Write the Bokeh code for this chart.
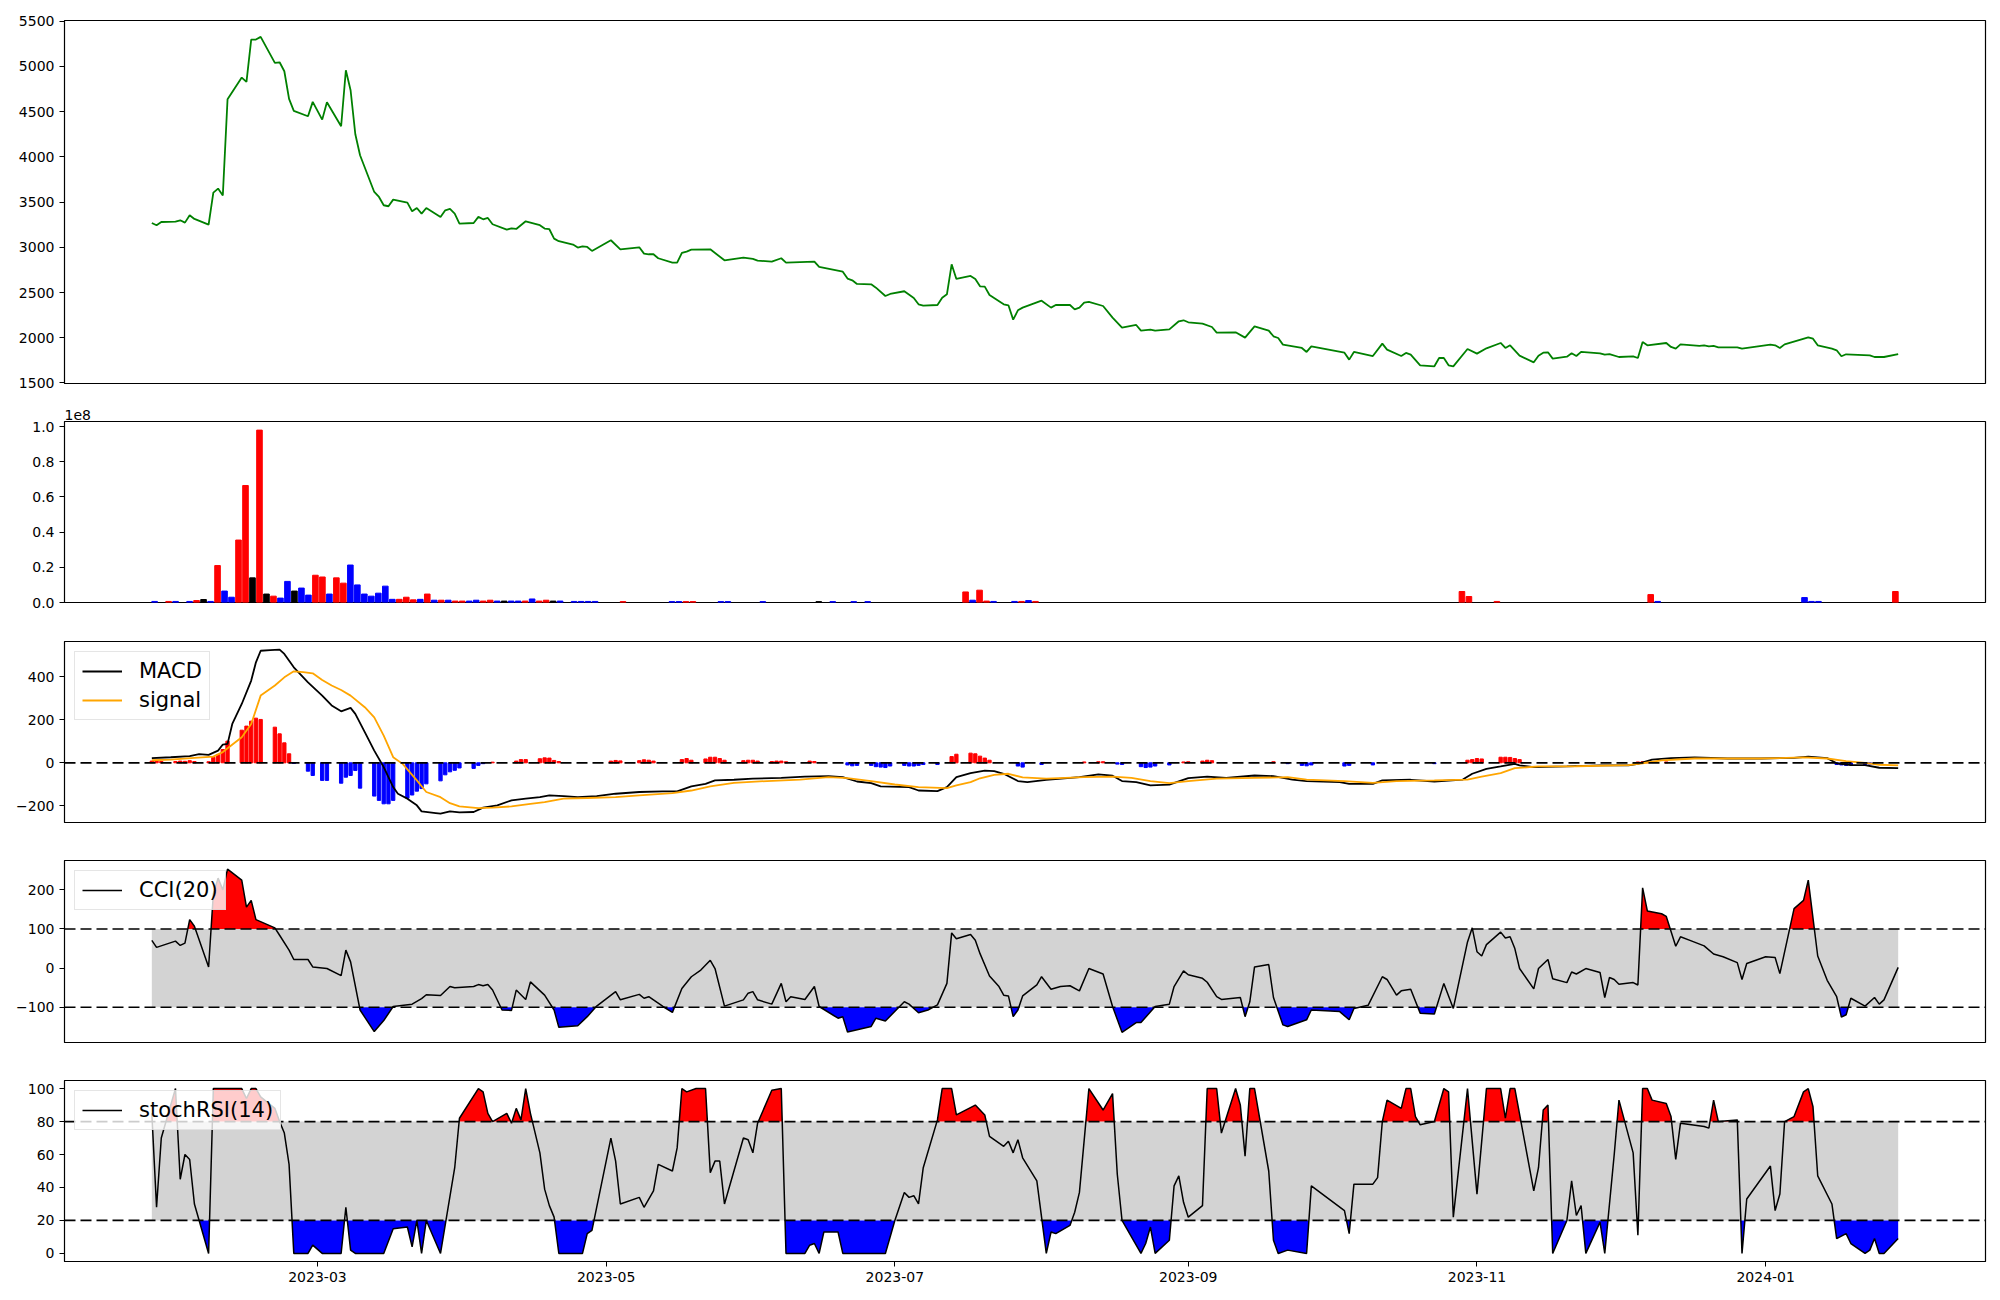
import numpy as np
import pandas as pd
from bokeh.plotting import figure
from bokeh.layouts import column
from bokeh.models import (Range1d, Span, FixedTicker, DatetimeTickFormatter,
                          CustomJSTickFormatter, Legend, LegendItem)
from bokeh.embed import file_html
from bokeh.resources import INLINE

# ---------------------------------------------------------------- data
BASE_DATE = "2023-03-01"   # every *_day list holds day offsets from this date

price_day = [-35, -34, -33, -30, -29, -28, -27, -26, -23, -22,
             -21, -20, -19, -16, -15, -14, -13, -12, -9, -8,
             -7, -6, -5, -2, -1, 1, 2, 5, 6, 7,
             8, 9, 12, 13, 14, 15, 16, 19, 20, 21,
             22, 23, 26, 27, 28, 29, 30, 33, 34, 35,
             36, 37, 40, 41, 42, 44, 47, 48, 49, 50,
             51, 54, 55, 56, 57, 58, 62, 64, 68, 69,
             70, 71, 72, 75, 76, 77, 78, 79, 83, 86,
             90, 92, 93, 96, 98, 99, 105, 106, 111, 112,
             113, 114, 117, 118, 120, 121, 124, 126, 127, 128,
             131, 132, 133, 134, 135, 138, 139, 140, 141, 142,
             145, 146, 147, 148, 149, 153, 155, 156, 159, 160,
             161, 162, 163, 166, 168, 170, 173, 174, 176, 177,
             180, 182, 183, 184, 187, 189, 190, 194, 196, 198,
             201, 202, 203, 204, 208, 209, 210, 217, 218, 219,
             223, 225, 226, 229, 230, 231, 233, 236, 237, 238,
             239, 240, 243, 245, 247, 250, 251, 252, 254, 257,
             258, 259, 260, 261, 264, 265, 266, 267, 271, 272,
             273, 275, 278, 279, 280, 281, 285, 286, 287, 288,
             292, 293, 294, 295, 296, 300, 301, 307, 308, 309,
             310, 315, 316, 317, 320, 321, 322, 323, 328, 329,
             331, 334]
price = [3269, 3244, 3280, 3284, 3299, 3273, 3354, 3314, 3251, 3605,
         3649, 3572, 4637, 4877, 4829, 5297, 5297, 5327, 5039, 5046,
         4947, 4641, 4508, 4449, 4608, 4412, 4604, 4339, 4958, 4737,
         4250, 4018, 3612, 3557, 3465, 3454, 3527, 3494, 3398, 3435,
         3373, 3435, 3336, 3409, 3424, 3373, 3262, 3269, 3336, 3310,
         3325, 3255, 3196, 3210, 3203, 3288, 3244, 3207, 3200, 3096,
         3067, 3030, 2997, 3011, 3004, 2960, 3078, 2978, 3000, 2930,
         2923, 2923, 2879, 2831, 2831, 2938, 2953, 2974, 2978, 2856,
         2886, 2871, 2853, 2842, 2879, 2831, 2842, 2783, 2731, 2654,
         2635, 2595, 2591, 2554, 2462, 2484, 2514, 2440, 2370, 2355,
         2362, 2443, 2480, 2812, 2650, 2683, 2650, 2569, 2565, 2473,
         2370, 2359, 2200, 2303, 2333, 2410, 2333, 2362, 2362, 2314,
         2333, 2388, 2396, 2351, 2222, 2112, 2141, 2079, 2090, 2079,
         2093, 2182, 2193, 2171, 2156, 2119, 2056, 2060, 2001, 2126,
         2079, 2016, 1997, 1924, 1887, 1843, 1905, 1835, 1758, 1843,
         1798, 1935, 1868, 1798, 1832, 1813, 1695, 1684, 1776, 1776,
         1695, 1684, 1876, 1824, 1883, 1942, 1887, 1916, 1802, 1728,
         1802, 1835, 1839, 1769, 1791, 1828, 1798, 1843, 1828, 1813,
         1820, 1787, 1795, 1776, 1953, 1916, 1942, 1898, 1879, 1927,
         1909, 1916, 1905, 1909, 1894, 1894, 1879, 1924, 1916, 1887,
         1927, 2005, 1990, 1916, 1879, 1861, 1795, 1817, 1806, 1787,
         1787, 1820]

# volume panel is drawn against the bar index (0 .. 249)
vol_index = [0, 2, 3, 5, 6, 7, 8, 9, 10, 11,
             12, 13, 14, 15, 16, 17, 18, 19, 20, 21,
             22, 23, 24, 25, 26, 27, 28, 29, 30, 31,
             32, 33, 34, 35, 36, 37, 38, 39, 40, 41,
             42, 43, 44, 45, 46, 47, 48, 49, 50, 51,
             52, 53, 54, 55, 56, 57, 58, 60, 61, 62,
             63, 67, 74, 75, 76, 77, 81, 82, 87, 95,
             97, 100, 102, 116, 117, 118, 119, 120, 123, 124,
             125, 126, 187, 188, 192, 214, 215, 236, 237, 238,
             249]
vol_1e8 = [0.006, 0.006, 0.006, 0.006, 0.011, 0.017, 0.006, 0.21, 0.065, 0.03,
           0.355, 0.665, 0.14, 0.98, 0.048, 0.036, 0.025, 0.12, 0.065, 0.082,
           0.042, 0.155, 0.145, 0.048, 0.14, 0.11, 0.213, 0.10, 0.048, 0.036,
           0.053, 0.093, 0.018, 0.018, 0.03, 0.015, 0.018, 0.048, 0.013, 0.013,
           0.013, 0.008, 0.008, 0.008, 0.013, 0.008, 0.013, 0.008, 0.008, 0.008,
           0.008, 0.008, 0.02, 0.008, 0.013, 0.008, 0.008, 0.006, 0.006, 0.006,
           0.006, 0.005, 0.005, 0.005, 0.005, 0.005, 0.005, 0.005, 0.005, 0.005,
           0.005, 0.005, 0.005, 0.06, 0.013, 0.07, 0.008, 0.006, 0.006, 0.006,
           0.011, 0.006, 0.0625, 0.034, 0.006, 0.045, 0.006, 0.028, 0.006, 0.006,
           0.0625]
vol_color = ["b", "r", "b", "b", "r", "k", "b", "r", "b", "b",
             "r", "r", "k", "r", "k", "r", "b", "b", "k", "b",
             "b", "r", "r", "b", "r", "r", "b", "b", "b", "b",
             "b", "b", "b", "r", "r", "r", "b", "r", "b", "r",
             "b", "r", "r", "b", "b", "r", "r", "b", "k", "b",
             "b", "r", "b", "r", "r", "k", "b", "b", "b", "b",
             "b", "r", "b", "b", "r", "r", "b", "b", "b", "k",
             "b", "b", "b", "r", "b", "r", "r", "b", "b", "r",
             "b", "r", "r", "r", "r", "r", "b", "b", "b", "b",
             "r"]

macd_day = [-35, -31, -27, -25, -23, -21, -20, -19, -18, -17,
            -16, -14, -13, -12, -10, -8, -7, -5, -2, 1,
            3, 5, 7, 8, 10, 12, 14, 16, 17, 19,
            21, 22, 25, 26, 28, 30, 33, 35, 38, 41,
            44, 47, 49, 52, 55, 59, 63, 68, 73, 76,
            79, 82, 84, 88, 92, 98, 103, 108, 111, 114,
            117, 119, 125, 127, 131, 133, 135, 138, 141, 143,
            145, 148, 150, 154, 161, 165, 168, 170, 173, 176,
            180, 184, 188, 192, 198, 202, 206, 209, 216, 218,
            223, 225, 231, 236, 242, 244, 247, 250, 253, 254,
            257, 264, 271, 277, 279, 282, 286, 291, 298, 305,
            312, 315, 319, 321, 324, 327, 330, 334]
macd = [22, 26, 31, 40, 37, 57, 85, 88, 181, 228,
        274, 383, 468, 522, 525, 527, 507, 445, 375, 313,
        267, 240, 256, 228, 143, 57, -20, -113, -144, -167,
        -198, -226, -234, -237, -226, -231, -229, -209, -198, -175,
        -167, -160, -152, -155, -160, -155, -144, -136, -133, -133,
        -110, -98, -82, -79, -74, -70, -64, -62, -67, -87,
        -95, -110, -113, -129, -132, -113, -67, -48, -36, -39,
        -51, -85, -90, -79, -67, -54, -60, -85, -90, -105,
        -102, -71, -64, -70, -59, -62, -78, -85, -90, -98,
        -98, -82, -79, -87, -78, -51, -28, -17, -5, -12,
        -20, -17, -12, -12, -5, 15, 22, 25, 20, 20,
        23, 29, 22, -2, -11, -11, -23, -25]

signal_day = [-35, -31, -26, -22, -20, -16, -14, -12, -9, -7,
              -5, -3, -1, 1, 3, 5, 7, 10, 12, 14,
              16, 18, 21, 23, 26, 28, 30, 34, 37, 41,
              45, 48, 52, 57, 63, 68, 75, 79, 83, 88,
              95, 102, 108, 112, 117, 122, 127, 133, 135, 138,
              140, 143, 146, 149, 154, 162, 168, 172, 176, 180,
              184, 190, 198, 205, 209, 217, 223, 228, 236, 243,
              246, 250, 253, 258, 266, 277, 280, 284, 291, 305,
              314, 319, 323, 327, 330, 334]
signal = [12, 15, 23, 29, 50, 119, 181, 313, 360, 398,
          426, 422, 417, 386, 360, 339, 313, 259, 212, 127,
          26, -5, -82, -136, -160, -188, -203, -211, -209, -203,
          -191, -183, -167, -164, -160, -152, -141, -129, -110, -93,
          -85, -78, -67, -71, -85, -101, -113, -118, -105, -90,
          -72, -56, -51, -68, -74, -67, -64, -70, -85, -95,
          -85, -74, -70, -67, -78, -85, -93, -85, -82, -78,
          -64, -48, -25, -17, -16, -11, -2, 11, 20, 20,
          25, 20, 8, 0, -9, -12]

hist_day = [-35, -34, -33, -30, -29, -28, -27, -26, -23, -22,
            -21, -20, -19, -16, -15, -14, -13, -12, -9, -8,
            -7, -6, -5, -2, -1, 1, 2, 5, 6, 7,
            8, 9, 12, 13, 14, 15, 16, 19, 20, 21,
            22, 23, 26, 27, 28, 29, 30, 33, 34, 35,
            37, 42, 43, 44, 47, 48, 49, 50, 51, 62,
            63, 64, 68, 69, 70, 71, 77, 78, 79, 82,
            83, 84, 85, 86, 90, 91, 92, 93, 96, 97,
            98, 99, 104, 105, 112, 113, 114, 117, 118, 119,
            120, 121, 124, 125, 126, 127, 128, 131, 134, 135,
            138, 139, 140, 141, 142, 148, 149, 153, 162, 165,
            166, 169, 170, 174, 175, 176, 177, 180, 183, 184,
            187, 188, 189, 202, 205, 208, 209, 210, 217, 218,
            223, 236, 243, 244, 245, 246, 250, 251, 252, 253,
            254, 279, 280, 281, 285, 321, 322, 323, 324, 327,
            328]
hist = [8, 8, 6, 6, 8, 7, 10, 6, 5, 26,
        39, 62, 101, 152, 171, 194, 208, 202, 166, 135,
        93, 42, -3, -39, -59, -82, -82, -95, -67, -59,
        -36, -118, -155, -175, -191, -191, -175, -165, -150, -132,
        -120, -98, -84, -56, -42, -35, -24, -26, -12, -4,
        3, 8, 15, 15, 19, 23, 22, 11, 6, 8,
        11, 9, 10, 14, 12, 8, 15, 20, 12, 18,
        26, 26, 20, 12, 10, 12, 12, 8, 6, 8,
        8, 5, 8, 6, -10, -14, -12, -12, -18, -20,
        -22, -15, -12, -15, -15, -12, -8, -8, 29, 40,
        45, 42, 31, 22, 12, -15, -20, -8, 4, 5,
        5, -6, -8, -18, -22, -20, -15, -10, 4, 5,
        8, 12, 10, 5, -4, -12, -14, -10, -15, -12,
        -10, -4, 12, 15, 20, 18, 26, 26, 25, 20,
        15, 4, 5, 5, 4, -8, -10, -12, -10, -8,
        -6]

cci_day = [-35, -34, -30, -29, -28, -27, -26, -23, -22, -21,
           -20, -19, -16, -15, -14, -13, -9, -8, -6, -5,
           -2, -1, 2, 5, 6, 7, 9, 12, 14, 16,
           20, 22, 23, 26, 28, 29, 33, 34, 35, 36,
           37, 39, 41, 42, 44, 45, 48, 50, 51, 55,
           57, 59, 63, 64, 68, 69, 70, 73, 75, 77,
           79, 81, 83, 84, 86, 90, 91, 92, 93, 96,
           98, 99, 100, 103, 105, 106, 110, 111, 112, 117,
           118, 120, 124, 125, 127, 129, 131, 133, 134, 135,
           138, 139, 140, 142, 144, 145, 146, 147, 148, 149,
           152, 153, 155, 157, 159, 161, 163, 166, 168, 170,
           173, 174, 177, 180, 181, 183, 184, 187, 188, 190,
           191, 195, 196, 197, 198, 201, 202, 204, 205, 209,
           210, 216, 218, 219, 222, 225, 226, 228, 229, 231,
           233, 236, 238, 240, 243, 244, 245, 246, 247, 250,
           251, 252, 253, 254, 257, 258, 260, 261, 264, 265,
           266, 268, 271, 272, 273, 274, 275, 278, 279, 280,
           281, 284, 285, 287, 288, 290, 293, 295, 297, 300,
           301, 302, 306, 308, 309, 312, 314, 315, 317, 319,
           321, 322, 323, 324, 327, 329, 330, 331, 334]
cci = [71, 53, 69, 58, 64, 124, 107, 3, 190, 230,
       200, 253, 225, 156, 173, 124, 103, 84, 46, 22,
       22, 3, -1, -19, 46, 16, -107, -162, -134, -98,
       -92, -78, -68, -70, -47, -50, -47, -42, -45, -42,
       -56, -107, -108, -56, -80, -35, -69, -107, -151, -147,
       -124, -97, -60, -81, -67, -77, -73, -98, -113, -52,
       -22, -5, 20, -1, -97, -81, -64, -60, -81, -92,
       -39, -86, -73, -80, -47, -98, -128, -124, -163, -149,
       -128, -135, -86, -92, -114, -107, -94, -39, 90, 75,
       86, 71, 37, -20, -47, -69, -71, -124, -107, -71,
       -43, -22, -54, -47, -45, -58, -1, -15, -98, -164,
       -139, -139, -98, -92, -47, -7, -17, -26, -36, -73,
       -80, -75, -124, -86, 3, 9, -75, -145, -149, -132,
       -107, -111, -132, -103, -95, -22, -29, -69, -58, -54,
       -115, -117, -39, -103, 67, 103, 42, 31, 60, 92,
       77, 80, 50, -1, -53, -1, 22, -27, -37, -10,
       -15, -1, -11, -75, -24, -29, -41, -37, -43, 205,
       146, 139, 132, 56, 80, 71, 57, 36, 29, 14,
       -29, 12, 29, 27, -14, 152, 173, 225, 31, -31,
       -73, -125, -119, -77, -97, -75, -92, -81, 2]

stoch_day = [-35, -34, -33, -30, -29, -28, -27, -26, -23, -22,
             -21, -19, -16, -15, -14, -13, -12, -9, -8, -7,
             -6, -5, -2, -1, 1, 5, 6, 7, 8, 14,
             16, 19, 20, 21, 22, 23, 26, 29, 30, 34,
             35, 36, 37, 40, 41, 42, 43, 44, 45, 47,
             48, 49, 50, 51, 56, 57, 58, 62, 63, 64,
             68, 69, 71, 72, 75, 76, 77, 78, 80, 82,
             83, 84, 85, 86, 90, 91, 92, 93, 96, 98,
             99, 103, 104, 105, 106, 107, 110, 111, 117, 120,
             122, 124, 125, 126, 127, 128, 131, 132, 134, 135,
             139, 141, 142, 145, 146, 147, 148, 149, 152, 154,
             155, 156, 159, 160, 161, 163, 166, 168, 169, 170,
             174, 175, 176, 177, 180, 181, 182, 183, 184, 187,
             188, 190, 191, 194, 195, 196, 197, 198, 201, 202,
             203, 205, 209, 210, 217, 218, 219, 223, 224, 225,
             226, 229, 230, 231, 232, 233, 236, 238, 239, 240,
             243, 245, 247, 250, 251, 252, 253, 257, 258, 259,
             260, 261, 264, 265, 266, 267, 268, 271, 272, 274,
             275, 278, 279, 280, 281, 282, 285, 286, 287, 288,
             293, 294, 295, 296, 300, 301, 302, 307, 308, 309,
             310, 312, 314, 315, 316, 317, 320, 321, 323, 324,
             327, 328, 329, 330, 331, 334]
stoch = [85, 28, 70, 100, 45, 60, 57, 30, 0, 100,
         100, 100, 100, 94, 100, 100, 95, 88, 80, 73,
         54, 0, 0, 5, 0, 0, 28, 2, 0, 0,
         15, 16, 4, 20, 0, 20, 0, 52, 82, 100,
         98, 85, 80, 85, 79, 88, 81, 100, 85, 61,
         39, 29, 22, 0, 0, 12, 14, 70, 56, 30,
         34, 28, 38, 54, 50, 64, 100, 98, 100, 100,
         49, 56, 56, 30, 70, 69, 61, 79, 99, 100,
         0, 0, 5, 6, 0, 13, 13, 0, 0, 0,
         20, 37, 34, 35, 30, 52, 81, 100, 100, 84,
         90, 84, 71, 65, 68, 61, 69, 58, 44, 0,
         13, 12, 17, 25, 37, 100, 87, 97, 48, 20,
         0, 6, 16, 0, 8, 41, 47, 31, 22, 29,
         100, 100, 73, 100, 90, 59, 100, 100, 50, 8,
         0, 2, 0, 41, 26, 12, 42, 42, 46, 80,
         93, 88, 100, 100, 83, 78, 80, 100, 98, 22,
         100, 36, 100, 100, 82, 100, 100, 38, 52, 87,
         90, 0, 20, 44, 23, 29, 0, 19, 0, 60,
         93, 61, 11, 100, 100, 93, 91, 83, 57, 79,
         77, 76, 93, 80, 81, 0, 33, 53, 26, 36,
         80, 83, 98, 100, 89, 47, 30, 9, 12, 6,
         0, 2, 9, 0, 0, 9]

date_ticks = ["2023-03-01", "2023-05-01", "2023-07-01",
              "2023-09-01", "2023-11-01", "2024-01-01"]

# ---------------------------------------------------------------- styling
FONT = "DejaVu Sans"
RED, BLUE, GREEN, ORANGE, GRAY = "#ff0000", "#0000ff", "#008000", "#ffa500", "#d3d3d3"
DASH = "11 5"
DAY_MS = 86400000.0
TICK_FONT = "14px"
LEG_FONT = "21px"


def to_dates(days):
    return pd.Timestamp(BASE_DATE) + pd.to_timedelta(np.asarray(days, dtype=float), unit="D")


def to_ms(days):
    return np.asarray(to_dates(days).astype("int64"), dtype=float) / 1e6


date_range = Range1d(start=pd.Timestamp("2023-01-06 13:12"),
                     end=pd.Timestamp("2024-02-16 10:48"))


def num_fmt(digits):
    return CustomJSTickFormatter(
        code="return (tick < 0 ? '\\u2212' : '') + Math.abs(tick).toFixed(%d);" % digits)


def make_fig(y0, y1, yticks, digits, frame_h, top, bottom, x_range=None, x_type="datetime"):
    p = figure(x_range=x_range if x_range is not None else date_range,
               y_range=Range1d(y0, y1), x_axis_type=x_type,
               frame_width=1921, frame_height=frame_h,
               min_border_left=64, min_border_right=9,
               min_border_top=top, min_border_bottom=bottom,
               output_backend="svg", toolbar_location=None)
    p.outline_line_color = "black"
    p.outline_line_width = 1.2
    p.xgrid.visible = False
    p.ygrid.visible = False
    p.background_fill_color = "white"
    p.border_fill_color = "white"
    for ax in p.yaxis + p.xaxis:
        ax.axis_line_color = "black"
        ax.major_tick_line_color = "black"
        ax.major_tick_out = 5
        ax.major_tick_in = 0
        ax.minor_tick_out = 0
        ax.minor_tick_in = 0
        ax.major_label_text_font = FONT
        ax.major_label_text_font_size = TICK_FONT
        ax.major_label_text_color = "black"
    p.yaxis.ticker = FixedTicker(ticks=yticks)
    p.yaxis.formatter = num_fmt(digits)
    p.yaxis.major_label_standoff = 5
    p.xaxis.visible = False
    return p


def add_legend(p, items):
    leg = Legend(items=[LegendItem(label=l, renderers=[r]) for l, r in items],
                 location="top_left")
    leg.label_text_font = FONT
    leg.label_text_font_size = LEG_FONT
    leg.label_text_color = "black"
    leg.glyph_width = 40
    leg.glyph_height = 24
    leg.label_height = 24
    leg.label_standoff = 17
    leg.padding = 7
    leg.spacing = 5
    leg.margin = 10
    leg.border_line_color = "#cccccc"
    leg.border_line_width = 1
    leg.background_fill_color = "white"
    leg.background_fill_alpha = 0.8
    p.add_layout(leg)


def hline(p, y):
    p.add_layout(Span(location=y, dimension="width", line_color="black",
                      line_dash=DASH, line_width=1.7))


def band_fill(p, days, vals, thr, above, color):
    """Fill between the series and a threshold on the side beyond it,
    splitting segments exactly where the line crosses the threshold."""
    xm = to_ms(days)
    y = np.asarray(vals, dtype=float)
    xs, ys = [xm[0]], [y[0]]
    for i in range(1, len(y)):
        a, b = y[i - 1], y[i]
        if (a - thr) * (b - thr) < 0:
            t = (thr - a) / (b - a)
            xs.append(xm[i - 1] + t * (xm[i] - xm[i - 1]))
            ys.append(thr)
        xs.append(xm[i])
        ys.append(b)
    ys = np.array(ys)
    edge = np.maximum(ys, thr) if above else np.minimum(ys, thr)
    p.varea(x=np.array(xs), y1=np.full(len(ys), float(thr)), y2=edge, fill_color=color)


# ---------------------------------------------------------------- panel 1: price
p1 = make_fig(1494, 5508, [1500, 2000, 2500, 3000, 3500, 4000, 4500, 5000, 5500], 0,
              363, 20, 10)
p1.line(to_dates(price_day), price, line_color=GREEN, line_width=1.8)

# ---------------------------------------------------------------- panel 2: volume (index axis)
vol_range = Range1d(-12.89, 261.89)
p2 = make_fig(0, 1.029, [0, 0.2, 0.4, 0.6, 0.8, 1.0], 1, 181, 28, 19,
              x_range=vol_range, x_type="linear")
p2.title.text = "1e8"
p2.title.text_font = FONT
p2.title.text_font_size = TICK_FONT
p2.title.text_font_style = "normal"
p2.title.text_color = "black"
p2.title.align = "left"
p2.title.offset = 0
p2.title.standoff = 3
cmap = {"r": RED, "b": BLUE, "k": "black"}
p2.vbar(x=vol_index, top=vol_1e8, bottom=0, width=0.8,
        color=[cmap[c] for c in vol_color])

# ---------------------------------------------------------------- panel 3: MACD
p3 = make_fig(-278, 565, [-200, 0, 200, 400], 0, 181, 20, 19)
hist_arr = np.asarray(hist, dtype=float)
p3.vbar(x=to_dates(hist_day), top=hist_arr, bottom=0, width=0.7 * DAY_MS,
        color=[RED if v > 0 else BLUE for v in hist_arr])
r_macd = p3.line(to_dates(macd_day), macd, line_color="black", line_width=1.8)
r_sig = p3.line(to_dates(signal_day), signal, line_color=ORANGE, line_width=1.8)
hline(p3, 0)
add_legend(p3, [("MACD", r_macd), ("signal", r_sig)])

# ---------------------------------------------------------------- panel 4: CCI
p4 = make_fig(-190, 275, [-100, 0, 100, 200], 0, 182, 19, 19)
cx = to_dates(cci_day)
p4.varea(x=[cx[0], cx[-1]], y1=[-100, -100], y2=[100, 100], fill_color=GRAY)
band_fill(p4, cci_day, cci, 100, True, RED)
band_fill(p4, cci_day, cci, -100, False, BLUE)
r_cci = p4.line(cx, cci, line_color="black", line_width=1.5)
hline(p4, 100)
hline(p4, -100)
add_legend(p4, [("CCI(20)", r_cci)])

# ---------------------------------------------------------------- panel 5: stochRSI
p5 = make_fig(-4.9, 104.9, [0, 20, 40, 60, 80, 100], 0, 181, 19, 5)
sx = to_dates(stoch_day)
p5.varea(x=[sx[0], sx[-1]], y1=[20, 20], y2=[80, 80], fill_color=GRAY)
band_fill(p5, stoch_day, stoch, 80, True, RED)
band_fill(p5, stoch_day, stoch, 20, False, BLUE)
r_st = p5.line(sx, stoch, line_color="black", line_width=1.5)
hline(p5, 80)
hline(p5, 20)
add_legend(p5, [("stochRSI(14)", r_st)])

p5.xaxis.visible = True
tick_ms = [float(pd.Timestamp(d).value // 10**6) for d in date_ticks]
p5.xaxis.ticker = FixedTicker(ticks=tick_ms)
p5.xaxis.formatter = DatetimeTickFormatter(years="%Y-%m", months="%Y-%m", days="%Y-%m",
                                           hours="%Y-%m", hourmin="%Y-%m")
p5.xaxis.major_label_standoff = 5

layout = column(p1, p2, p3, p4, p5, spacing=0)
with open("out.html", "w", encoding="utf-8") as f:
    f.write(file_html(layout, INLINE))
